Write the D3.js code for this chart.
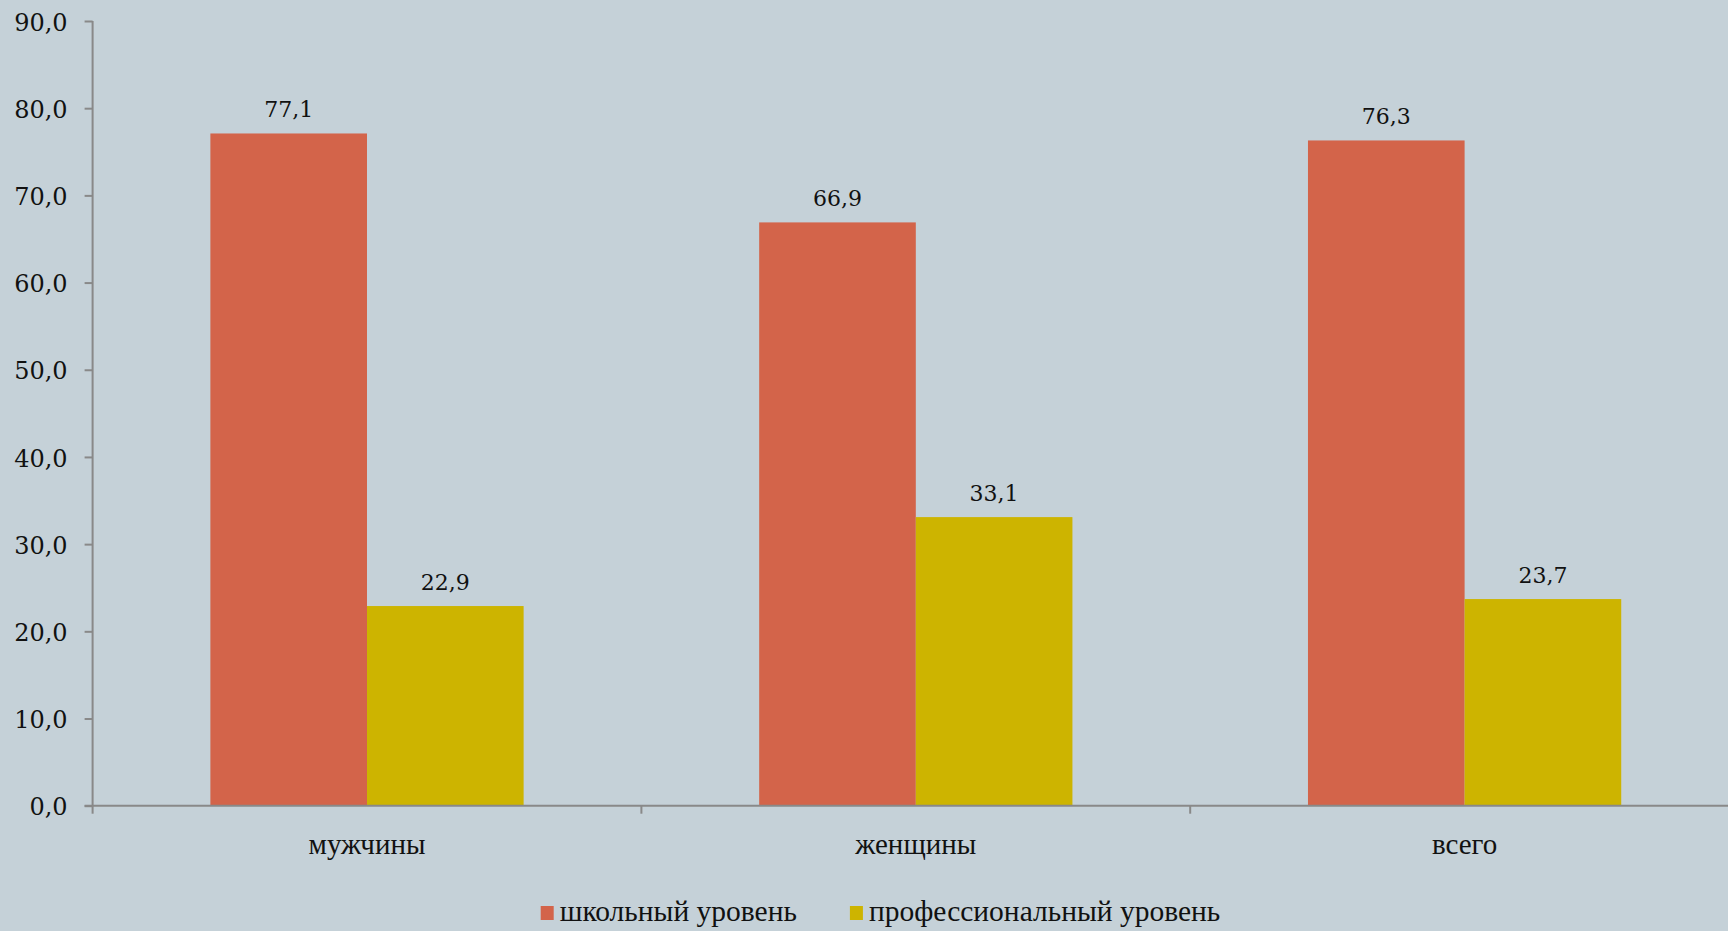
<!DOCTYPE html>
<html><head><meta charset="utf-8">
<script src="https://cdn.jsdelivr.net/npm/d3@7"></script>
<style>
html,body{margin:0;padding:0;background:#C5D1D8;overflow:hidden}
svg{display:block}
</style></head><body>
<svg id="c" width="1728" height="931"></svg>
<script>
const categories = ["мужчины", "женщины", "всего"];
const seriesNames = ["школьный уровень", "профессиональный уровень"];
const schoolValues = [77.1, 66.9, 76.3];
const profValues = [22.9, 33.1, 23.7];
const yTicks = [0, 10, 20, 30, 40, 50, 60, 70, 80, 90];
const colors = ["#D3644A", "#CDB400"];

const svg = d3.select("#c");
const W = 1728, H = 931;
svg.append("rect").attr("width", W).attr("height", H).attr("fill", "#C5D1D8");

const left = 92.6, bandW = 548.8;
const y = d3.scaleLinear().domain([0, 90]).range([805.7, 21]);
const x0 = d3.scaleBand().domain(categories).range([left, left + bandW * 3]).paddingInner(0).paddingOuter(0);
const x1 = d3.scaleBand().domain(seriesNames).range([0, x0.bandwidth()]).paddingInner(0).paddingOuter(0.752);

const numFont = "DejaVu Serif";
const txtFont = "Liberation Serif";
const fmt = d => d.toFixed(1).replace(".", ",");

// bars
const rows = categories.map((c, i) => ({c, vals: [schoolValues[i], profValues[i]]}));
const g = svg.append("g");
rows.forEach(r => {
  r.vals.forEach((v, j) => {
    const sx = x0(r.c) + x1(seriesNames[j]);
    g.append("rect").attr("x", sx).attr("y", y(v)).attr("width", x1.bandwidth())
      .attr("height", y(0) - y(v)).attr("fill", colors[j]);
    g.append("text").attr("x", sx + x1.bandwidth() / 2).attr("y", y(v) - 16)
      .attr("text-anchor", "middle").style("font-family", numFont).style("font-size", "22px")
      .attr("fill", "#111").text(fmt(v));
  });
});

// y axis
const yAxis = svg.append("g").attr("transform", `translate(${left},0)`)
  .call(d3.axisLeft(y).tickValues(yTicks).tickSize(8).tickPadding(17).tickFormat(fmt));
yAxis.select(".domain").attr("stroke", "#898989").attr("stroke-width", 2).attr("d", `M0,${y(90)}V${y(0)}`);
yAxis.selectAll(".tick line").attr("stroke", "#898989").attr("stroke-width", 2);
yAxis.selectAll(".tick text").style("font-family", numFont).style("font-size", "24px").attr("fill", "#111").attr("dy", "0.38em");

// x axis
const xAxis = svg.append("g").attr("transform", `translate(0,${y(0)})`)
  .call(d3.axisBottom(x0).tickSize(0).tickPadding(45));
xAxis.select(".domain").attr("stroke", "#898989").attr("stroke-width", 2).attr("d", `M${left - 8},0H${left + bandW * 3}`);
xAxis.selectAll(".tick text").style("font-family", txtFont).style("font-size", "29px").attr("fill", "#111").attr("dy", "0.1em");
const bounds = categories.map(c => x0(c)).concat([x0(categories[2]) + x0.bandwidth()]);
xAxis.selectAll("line.b").data(bounds).join("line").attr("class", "b")
  .attr("x1", d => d).attr("x2", d => d).attr("y1", 0).attr("y2", 8)
  .attr("stroke", "#898989").attr("stroke-width", 2);

// legend
const leg = svg.append("g");
const items = seriesNames.map((n, i) => {
  const it = leg.append("g");
  it.append("rect").attr("width", 13).attr("height", 14).attr("y", -15).attr("fill", colors[i]);
  const t = it.append("text").attr("x", 19).style("font-family", txtFont).style("font-size", "29.5px").attr("fill", "#111").text(n);
  return {it, w: 19 + t.node().getComputedTextLength()};
});
const gap = 53;
const total = items.reduce((s, d) => s + d.w, 0) + gap;
let lx = 880.5 - total / 2;
items.forEach(d => { d.it.attr("transform", `translate(${lx},921)`); lx += d.w + gap; });
</script>
</body></html>
